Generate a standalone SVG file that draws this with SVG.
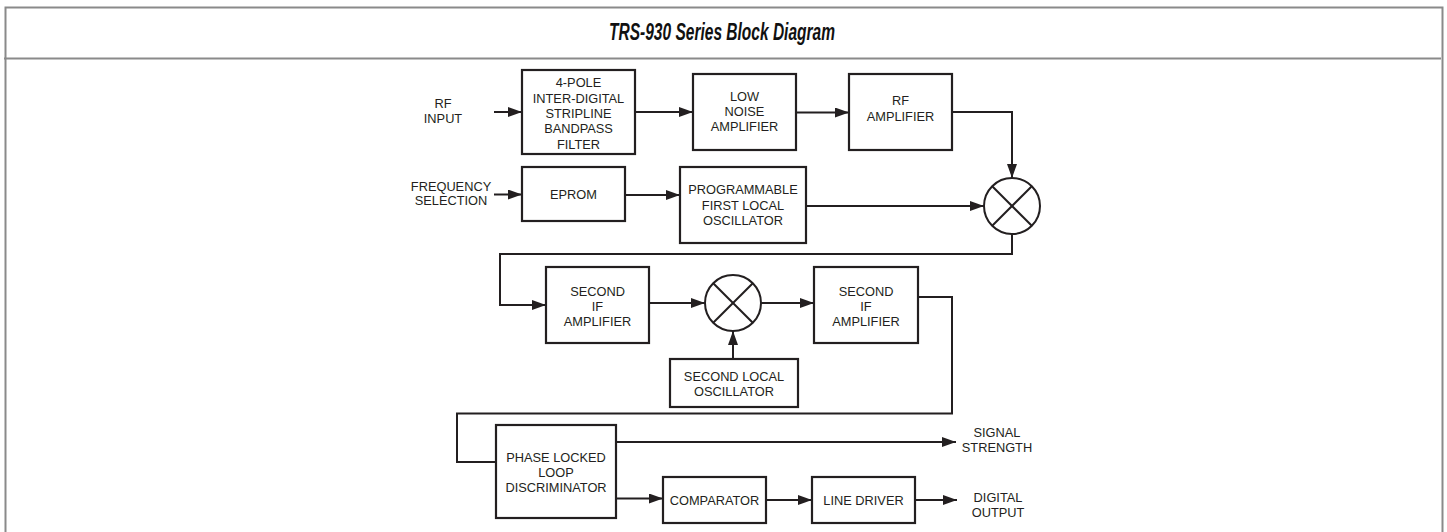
<svg xmlns="http://www.w3.org/2000/svg" width="1447" height="532" viewBox="0 0 1447 532">
<style>
.frame{fill:none;stroke:#8a8a8a;stroke-width:2}
.box{fill:#fff;stroke:#231f20;stroke-width:2.2}
.mix{fill:#fff;stroke:#231f20;stroke-width:2}
.x{stroke:#231f20;stroke-width:2}
.c{fill:none;stroke:#231f20;stroke-width:2;marker-end:url(#ah)}
.cn{fill:none;stroke:#231f20;stroke-width:2}
text{font-family:"Liberation Sans",Arial,sans-serif;font-size:12.8px;fill:#231f20;text-anchor:middle}
.title{font-size:23px;font-weight:bold;font-style:italic;fill:#111}
</style>
<defs>
<marker id="ah" markerUnits="userSpaceOnUse" markerWidth="16" markerHeight="12" refX="14" refY="5" orient="auto">
<path d="M0,0 L14,5 L0,10 z" fill="#231f20"/>
</marker>
</defs>
<rect width="1447" height="532" fill="#fff"/>
<g id="frame">
<path class="frame" d="M5.5,540 V7.5 H1442.5 V540"/>
<line class="frame" x1="4" y1="58.5" x2="1441" y2="58.5"/>
<text class="title" x="722" y="39.5" textLength="226" lengthAdjust="spacingAndGlyphs">TRS-930 Series Block Diagram</text>
</g>
<g id="connectors">
<path class="c" d="M494,112 H522"/>
<path class="c" d="M635,112 H693"/>
<path class="c" d="M796,112.5 H849"/>
<path class="c" d="M952,112 H1012 V178"/>
<path class="c" d="M494,194.5 H522"/>
<path class="c" d="M625,195 H680"/>
<path class="c" d="M806,206 H984"/>
<path class="c" d="M1012,234 V254 H500 V305 H546"/>
<path class="c" d="M649,303 H705"/>
<path class="c" d="M761,303 H814"/>
<path class="c" d="M733,359 V331"/>
<path class="cn" d="M918,297 H952 V413.5 H457 V462 H496"/>
<path class="c" d="M616,442 H956"/>
<path class="c" d="M616,498.5 H663"/>
<path class="c" d="M766,500 H812"/>
<path class="c" d="M915,500 H957"/>
</g>
<g id="rf-input">
<text x="443" y="107.5">RF</text>
<text x="443" y="122.5">INPUT</text>
</g>
<g id="frequency-selection">
<text x="451" y="190.5">FREQUENCY</text>
<text x="451" y="205">SELECTION</text>
</g>
<g id="bandpass-filter">
<rect class="box" x="522" y="70" width="113" height="84"/>
<text x="578.5" y="87">4-POLE</text>
<text x="578.5" y="102.5">INTER-DIGITAL</text>
<text x="578.5" y="117.5">STRIPLINE</text>
<text x="578.5" y="133">BANDPASS</text>
<text x="578.5" y="148.5">FILTER</text>
</g>
<g id="lna">
<rect class="box" x="693" y="74" width="103" height="76"/>
<text x="744.5" y="100.5">LOW</text>
<text x="744.5" y="116">NOISE</text>
<text x="744.5" y="131">AMPLIFIER</text>
</g>
<g id="rf-amplifier">
<rect class="box" x="849" y="74" width="103" height="76"/>
<text x="900.5" y="104.5">RF</text>
<text x="900.5" y="121">AMPLIFIER</text>
</g>
<g id="eprom">
<rect class="box" x="522" y="167" width="103" height="54"/>
<text x="573.5" y="198.8">EPROM</text>
</g>
<g id="first-lo">
<rect class="box" x="680" y="167" width="126" height="76"/>
<text x="743" y="193.8">PROGRAMMABLE</text>
<text x="743" y="209.5">FIRST LOCAL</text>
<text x="743" y="224.8">OSCILLATOR</text>
</g>
<g id="mixer1">
<circle class="mix" cx="1012" cy="206" r="28"/>
<line class="x" x1="992.2" y1="186.2" x2="1031.8" y2="225.8"/>
<line class="x" x1="1031.8" y1="186.2" x2="992.2" y2="225.8"/>
</g>
<g id="second-if-1">
<rect class="box" x="546" y="267" width="103" height="76"/>
<text x="597.5" y="296">SECOND</text>
<text x="597.5" y="311">IF</text>
<text x="597.5" y="325.5">AMPLIFIER</text>
</g>
<g id="mixer2">
<circle class="mix" cx="733" cy="303" r="28"/>
<line class="x" x1="713.2" y1="283.2" x2="752.8" y2="322.8"/>
<line class="x" x1="752.8" y1="283.2" x2="713.2" y2="322.8"/>
</g>
<g id="second-if-2">
<rect class="box" x="814" y="267" width="104" height="76"/>
<text x="866" y="296">SECOND</text>
<text x="866" y="311">IF</text>
<text x="866" y="325.5">AMPLIFIER</text>
</g>
<g id="second-lo">
<rect class="box" x="670" y="359" width="128" height="48"/>
<text x="734" y="381">SECOND LOCAL</text>
<text x="734" y="396">OSCILLATOR</text>
</g>
<g id="pll">
<rect class="box" x="496" y="425" width="120" height="93"/>
<text x="556" y="462">PHASE LOCKED</text>
<text x="556" y="477">LOOP</text>
<text x="556" y="492">DISCRIMINATOR</text>
</g>
<g id="signal-strength">
<text x="997" y="437">SIGNAL</text>
<text x="997" y="452">STRENGTH</text>
</g>
<g id="comparator">
<rect class="box" x="663" y="477" width="103" height="46"/>
<text x="714.5" y="504.5">COMPARATOR</text>
</g>
<g id="line-driver">
<rect class="box" x="812" y="477" width="103" height="46"/>
<text x="863.5" y="504.5">LINE DRIVER</text>
</g>
<g id="digital-output">
<text x="998" y="502">DIGITAL</text>
<text x="998" y="517">OUTPUT</text>
</g>
</svg>
